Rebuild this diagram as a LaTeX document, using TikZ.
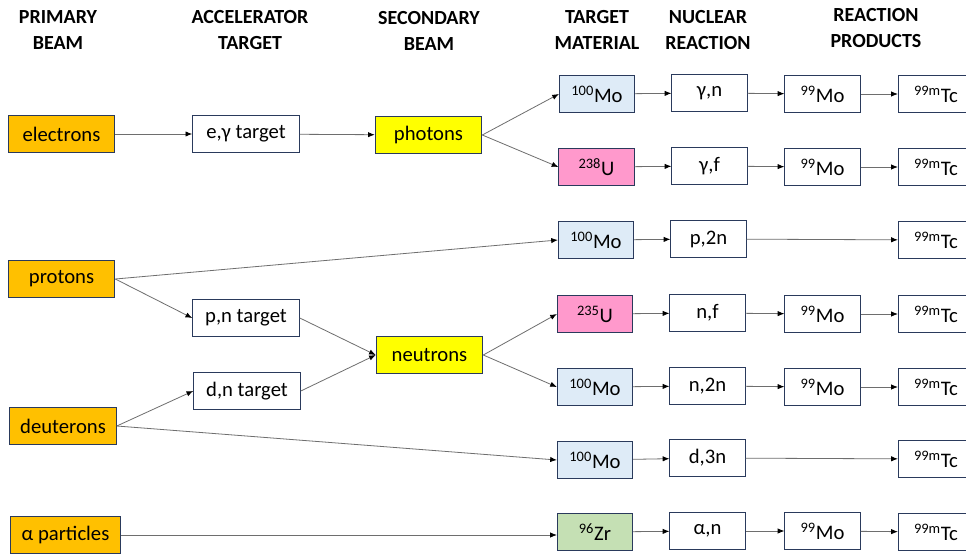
\documentclass[tikz,border=0pt]{standalone}
\usepackage{fontspec}
\setmainfont{Carlito}
\usetikzlibrary{arrows.meta}
\definecolor{boxline}{HTML}{2A3A5C}
\definecolor{arrline}{HTML}{6E6E6E}
\definecolor{beamor}{HTML}{FFC000}
\definecolor{secyel}{HTML}{FFFF00}
\definecolor{moblue}{HTML}{DEEBF7}
\definecolor{upink}{HTML}{FF99CC}
\definecolor{zrgreen}{HTML}{C5E0B4}
\tikzset{
  box/.style={draw=boxline,line width=0.7pt,fill=white,minimum height=27.5pt,
    inner sep=0pt,font=\fontsize{15.5}{18}\selectfont},
  wide/.style={box,minimum width=80pt},
  narrow/.style={box,minimum width=56.5pt},
  hdr/.style={font=\fontsize{15}{19.5}\selectfont\bfseries,align=center},
  arr/.style={draw=arrline,line width=0.6pt,-{Latex[black,length=5pt,width=4pt]}},
}
\newcommand{\iso}[2]{\textsuperscript{#1}#2}
\begin{document}
\begin{tikzpicture}[x=0.75pt,y=-0.75pt]
\clip(0,0)rectangle(966,553);
\fill[white](0,0)rectangle(966,553);
\node[hdr](h1)at(58,30){PRIMARY\\BEAM};
\node[hdr](h2)at(250,30){ACCELERATOR\\TARGET};
\node[hdr](h3)at(429,31){SECONDARY\\BEAM};
\node[hdr](h4)at(597,30){TARGET\\MATERIAL};
\node[hdr](h5)at(708,30){NUCLEAR\\REACTION};
\node[hdr](h6)at(876,28){REACTION\\PRODUCTS};
\node[wide,fill=beamor](el)at(61.5,134){electrons};
\node[wide,fill=beamor](pr)at(61.5,279){protons};
\node[wide,fill=beamor](de)at(63,426){deuterons};
\node[wide,fill=beamor,minimum width=83pt](al)at(65.5,535){α particles};
\node[wide](eg)at(246,134){e,γ target};
\node[wide](pn)at(246,318){p,n target};
\node[wide](dn)at(247,391){d,n target};
\node[wide,fill=secyel](ph)at(428.5,135){photons};
\node[wide,fill=secyel](ne)at(429.5,355){neutrons};
\node[narrow,fill=moblue](m1)at(597,94){\iso{100}{Mo}};
\node[narrow,fill=upink](u1)at(596.5,167){\iso{238}{U}};
\node[narrow,fill=moblue](m2)at(596,240){\iso{100}{Mo}};
\node[narrow,fill=upink](u2)at(595,314){\iso{235}{U}};
\node[narrow,fill=moblue](m3)at(595,387){\iso{100}{Mo}};
\node[narrow,fill=moblue](m4)at(595,460){\iso{100}{Mo}};
\node[narrow,fill=zrgreen](zr)at(595,532){\iso{96}{Zr}};
\node[narrow](r1)at(709.5,93){γ,n};
\node[narrow](r2)at(709.5,166){γ,f};
\node[narrow](r3)at(708.5,239){p,2n};
\node[narrow](r4)at(707.5,313){n,f};
\node[narrow](r5)at(707.5,386){n,2n};
\node[narrow](r6)at(707.5,458){d,3n};
\node[narrow](r7)at(707.5,531){α,n};
\node[narrow](p1)at(822.5,94){\iso{99}{Mo}};
\node[narrow](p2)at(822.5,167){\iso{99}{Mo}};
\node[narrow](p4)at(822.5,314){\iso{99}{Mo}};
\node[narrow](p5)at(822.5,387){\iso{99}{Mo}};
\node[narrow](p7)at(822.5,531){\iso{99}{Mo}};
\node[narrow](t1)at(936,94){\iso{99m}{Tc}};
\node[narrow](t2)at(936,167){\iso{99m}{Tc}};
\node[narrow](t3)at(936,240){\iso{99m}{Tc}};
\node[narrow](t4)at(936,314){\iso{99m}{Tc}};
\node[narrow](t5)at(936,387){\iso{99m}{Tc}};
\node[narrow](t6)at(936,459){\iso{99m}{Tc}};
\node[narrow](t7)at(936,532){\iso{99m}{Tc}};
\draw[arr](el)--(eg);
\draw[arr](eg)--(ph);
\draw[arr](ph.east)--(m1.west);
\draw[arr](ph.east)--(u1.west);
\draw[arr](pr.east)--(m2.west);
\draw[arr](pr.east)--(pn.west);
\draw[arr](pn.east)--(ne.west);
\draw[arr](dn.east)--(ne.west);
\draw[arr](de.east)--(dn.west);
\draw[arr](de.east)--(m4.west);
\draw[arr](ne.east)--(u2.west);
\draw[arr](ne.east)--(m3.west);
\draw[arr](al.east)--(al.east-|zr.west);
\draw[arr](m1)--(r1);\draw[arr](r1)--(p1);\draw[arr](p1)--(t1);
\draw[arr](u1)--(r2);\draw[arr](r2)--(p2);\draw[arr](p2)--(t2);
\draw[arr](m2)--(r3);\draw[arr](r3)--(t3);
\draw[arr](u2)--(r4);\draw[arr](r4)--(p4);\draw[arr](p4)--(t4);
\draw[arr](m3)--(r5);\draw[arr](r5)--(p5);\draw[arr](p5)--(t5);
\draw[arr](m4)--(r6);\draw[arr](r6)--(t6);
\draw[arr](zr)--(r7);\draw[arr](r7)--(p7);\draw[arr](p7)--(t7);
\end{tikzpicture}
\end{document}
